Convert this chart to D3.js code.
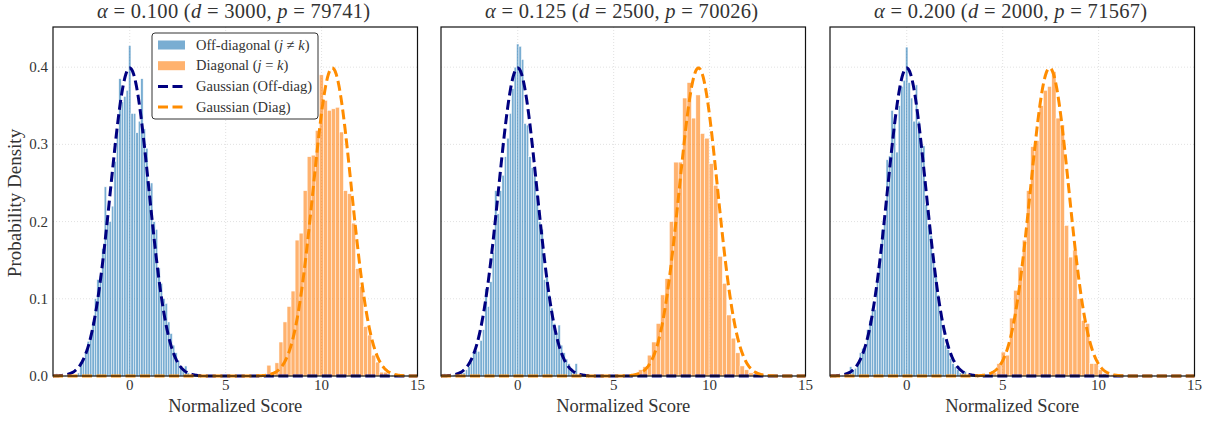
<!DOCTYPE html>
<html>
<head>
<meta charset="utf-8">
<script src="https://cdn.jsdelivr.net/npm/d3@7"></script>
<style>
  body { margin: 0; background: #fff; }
  text { font-family: "Liberation Serif", "DejaVu Serif", serif; fill: #333; }
</style>
</head>
<body>
<svg id="canvas" width="1217" height="423"></svg>
<script>
// Panel parameters (read from titles)
const alphas = ["0.100", "0.125", "0.200"];
const dims = [3000, 2500, 2000];
const pairs = [79741, 70026, 71567];

// Axis ticks
const xTicks = [0, 5, 10, 15];
const yTicks = [0.0, 0.1, 0.2, 0.3, 0.4];

// Off-diagonal histograms (density), same bins in all panels
const offStart = -3.8735;
const offWidth = 0.127;
const offDensity1 = [0.003, 0.001, 0, 0, 0, 0, 0, 0, 0.002, 0.004,
  0.018, 0.022, 0.030, 0.045, 0.050, 0.070, 0.100, 0.125, 0.130, 0.165,
  0.245, 0.205, 0.200, 0.220, 0.278, 0.318, 0.385, 0.355, 0.362, 0.370,
  0.428, 0.340, 0.340, 0.315, 0.330, 0.385, 0.320, 0.295, 0.250, 0.250,
  0.200, 0.190, 0.140, 0.120, 0.100, 0.094, 0.070, 0.055, 0.040, 0.030,
  0.020, 0.012, 0.008, 0.013, 0.004, 0.002, 0, 0.002, 0, 0, 0.001];
const offDensity2 = [0.003, 0.002, 0, 0, 0.002, 0, 0.002, 0.004, 0.004,
  0.008, 0.012, 0.018, 0.030, 0.033, 0.032, 0.046, 0.060, 0.113, 0.090,
  0.122, 0.160, 0.240, 0.210, 0.240, 0.260, 0.284, 0.308, 0.340, 0.372,
  0.400, 0.430, 0.427, 0.410, 0.327, 0.325, 0.284, 0.270, 0.258, 0.235,
  0.200, 0.190, 0.125, 0.128, 0.105, 0.088, 0.068, 0.055, 0.066, 0.040,
  0.030, 0.022, 0.016, 0.010, 0.006, 0.016];
const offDensity3 = [0.002, 0, 0, 0, 0, 0,
  0.003, 0.012, 0.008, 0.010, 0.016, 0.030, 0.036, 0.036, 0.060, 0.072,
  0.088, 0.086, 0.125, 0.150, 0.190, 0.200, 0.280, 0.285, 0.344, 0.330,
  0.290, 0.350, 0.375, 0.383, 0.426, 0.380, 0.360, 0.330, 0.377, 0.330,
  0.300, 0.298, 0.222, 0.195, 0.182, 0.155, 0.128, 0.105, 0.080, 0.050,
  0.040, 0.034, 0.023, 0.016, 0.012, 0.008, 0.004, 0.004, 0.006];

// Diagonal histograms (density)
const diagStart = [7.15, 5.605, 4.26];
const diagWidth = [0.21, 0.23, 0.22];
const diagDensity1 = [0.014, 0.005, 0.017, 0.044, 0.070, 0.090, 0.110, 0.176, 0.185, 0.240,
  0.284, 0.286, 0.318, 0.390, 0.357, 0.344, 0.346, 0.348, 0.316, 0.240,
  0.236, 0.198, 0.139, 0.116, 0.064, 0.053, 0.027, 0.018, 0.005, 0.005,
  0, 0, 0.002, 0.002];
const diagDensity2 = [0.002, 0.002, 0.002, 0.008, 0.012, 0.027, 0.044, 0.068, 0.105, 0.126,
  0.200, 0.277, 0.277, 0.360, 0.380, 0.334, 0.364, 0.314, 0.308, 0.275,
  0.247, 0.155, 0.120, 0.079, 0.049, 0.030, 0.013, 0.008, 0.004, 0.002];
const diagDensity3 = [0.002, 0.004, 0.016, 0.031, 0.027, 0.075, 0.111, 0.141, 0.176, 0.240,
  0.297, 0.305, 0.350, 0.370, 0.375, 0.394, 0.334, 0.325, 0.195, 0.154,
  0.163, 0.100, 0.072, 0.068, 0.016, 0.016, 0.008, 0.003, 0.002, 0.002,
  0.002];

// Gaussian reference curves
const offMean = [0, 0, 0];
const diagMean = [10.56, 9.42, 7.45];
const sigma = 1;

const offDensity = [offDensity1, offDensity2, offDensity3];
const diagDensity = [diagDensity1, diagDensity2, diagDensity3];

// Layout
const panelLeft = [53, 441, 830];
const panelWidth = 364.5;
const plotTop = 27, plotBottom = 376;

const svg = d3.select("#canvas");
svg.append("rect").attr("width", 1217).attr("height", 423).attr("fill", "#fff");

const y = d3.scaleLinear().domain([0, 0.452]).range([plotBottom, plotTop]);

function gaussian(x, mu, s) {
    return Math.exp(-0.5 * ((x - mu) / s) ** 2) / (s * Math.sqrt(2 * Math.PI));
}

for (let p = 0; p < 3; p++) {
    const x = d3.scaleLinear().domain([-4, 15]).range([panelLeft[p], panelLeft[p] + panelWidth]);
    const g = svg.append("g");

    // grid
    g.selectAll(".gx").data(xTicks).join("line")
        .attr("x1", d => x(d)).attr("x2", d => x(d))
        .attr("y1", plotTop).attr("y2", plotBottom)
        .attr("stroke", "#d9d9d9").attr("stroke-width", 0.8).attr("stroke-dasharray", "1,2");
    g.selectAll(".gy").data(yTicks).join("line")
        .attr("x1", panelLeft[p]).attr("x2", panelLeft[p] + panelWidth)
        .attr("y1", d => y(d)).attr("y2", d => y(d))
        .attr("stroke", "#d9d9d9").attr("stroke-width", 0.8).attr("stroke-dasharray", "1,2");

    // histograms
    const offBins = offDensity[p].map((v, i) => ({ x0: offStart + i * offWidth, x1: offStart + (i + 1) * offWidth, v }))
        .filter(d => d.v > 0);
    g.selectAll(".off").data(offBins).join("rect")
        .attr("x", d => x(d.x0)).attr("width", d => x(d.x1) - x(d.x0))
        .attr("y", d => y(d.v)).attr("height", d => y(0) - y(d.v))
        .attr("fill", "#1f77b4").attr("fill-opacity", 0.6)
        .attr("stroke", "#fff").attr("stroke-width", 0.5);

    const dw = diagWidth[p];
    const diagBins = diagDensity[p].map((v, i) => ({ x0: diagStart[p] + i * dw, x1: diagStart[p] + (i + 1) * dw, v }))
        .filter(d => d.v > 0);
    g.selectAll(".diag").data(diagBins).join("rect")
        .attr("x", d => x(d.x0)).attr("width", d => x(d.x1) - x(d.x0))
        .attr("y", d => y(d.v)).attr("height", d => y(0) - y(d.v))
        .attr("fill", "#ff7f0e").attr("fill-opacity", 0.6)
        .attr("stroke", "#fff").attr("stroke-width", 0.5);

    // gaussian curves over the full x range
    const xs = d3.range(-4, 15.001, 0.02);
    const line = d3.line().x(d => x(d[0])).y(d => y(d[1]));
    g.append("path")
        .attr("d", line(xs.map(t => [t, gaussian(t, offMean[p], sigma)])))
        .attr("fill", "none").attr("stroke", "#000080").attr("stroke-width", 3)
        .attr("stroke-dasharray", "10,4.5");
    g.append("path")
        .attr("d", line(xs.map(t => [t, gaussian(t, diagMean[p], sigma)])))
        .attr("fill", "none").attr("stroke", "#ff8c00").attr("stroke-width", 3)
        .attr("stroke-dasharray", "10,4.5");

    // frame
    g.append("rect")
        .attr("x", panelLeft[p]).attr("y", plotTop)
        .attr("width", panelWidth).attr("height", plotBottom - plotTop)
        .attr("fill", "none").attr("stroke", "#111").attr("stroke-width", 1.2);

    // x tick labels
    g.selectAll(".xt").data(xTicks).join("text")
        .attr("x", d => x(d)).attr("y", 390)
        .attr("text-anchor", "middle").attr("font-size", 15)
        .text(d => d);

    // x label
    g.append("text")
        .attr("x", panelLeft[p] + panelWidth / 2).attr("y", 412)
        .attr("text-anchor", "middle").attr("font-size", 18.5)
        .text("Normalized Score");

    // title
    const t = g.append("text")
        .attr("x", panelLeft[p] + panelWidth / 2 - 1.5).attr("y", 18)
        .attr("text-anchor", "middle").attr("font-size", 20.5)
        .attr("letter-spacing", 0.3);
    t.append("tspan").attr("font-style", "italic").text("α");
    t.append("tspan").text(" = " + alphas[p] + " (");
    t.append("tspan").attr("font-style", "italic").text("d");
    t.append("tspan").text(" = " + dims[p] + ", ");
    t.append("tspan").attr("font-style", "italic").text("p");
    t.append("tspan").text(" = " + pairs[p] + ")");
}

// y tick labels (shared y, only on first panel)
svg.selectAll(".yt").data(yTicks).join("text")
    .attr("x", 48).attr("y", d => y(d) + 5)
    .attr("text-anchor", "end").attr("font-size", 15)
    .text(d => d.toFixed(1));

// y label
svg.append("text")
    .attr("transform", "translate(21,203) rotate(-90)")
    .attr("text-anchor", "middle").attr("font-size", 19)
    .text("Probability Density");

// legend in first panel
const legend = svg.append("g").attr("transform", "translate(152,33)");
legend.append("rect")
    .attr("width", 166).attr("height", 86).attr("rx", 3)
    .attr("fill", "#fff").attr("stroke", "#333").attr("stroke-width", 1);

const legendItems = [
    { type: "patch", color: "#1f77b4", parts: [["Off-diagonal (", false], ["j", true], [" ≠ ", false], ["k", true], [")", false]] },
    { type: "patch", color: "#ff7f0e", parts: [["Diagonal (", false], ["j", true], [" = ", false], ["k", true], [")", false]] },
    { type: "line", color: "#000080", parts: [["Gaussian (Off-diag)", false]] },
    { type: "line", color: "#ff8c00", parts: [["Gaussian (Diag)", false]] }
];
legendItems.forEach((item, i) => {
    const cy = 12 + i * 20.7;
    if (item.type === "patch") {
        legend.append("rect")
            .attr("x", 6).attr("y", cy - 4.5).attr("width", 27).attr("height", 9)
            .attr("fill", item.color).attr("fill-opacity", 0.6);
    } else {
        legend.append("line")
            .attr("x1", 6).attr("x2", 33).attr("y1", cy).attr("y2", cy)
            .attr("stroke", item.color).attr("stroke-width", 3)
            .attr("stroke-dasharray", "10,4.5");
    }
    const txt = legend.append("text")
        .attr("x", 44).attr("y", cy + 4.5).attr("font-size", 14.5);
    item.parts.forEach(([s, it]) => {
        const ts = txt.append("tspan").text(s);
        if (it) ts.attr("font-style", "italic");
    });
});
</script>
</body>
</html>
